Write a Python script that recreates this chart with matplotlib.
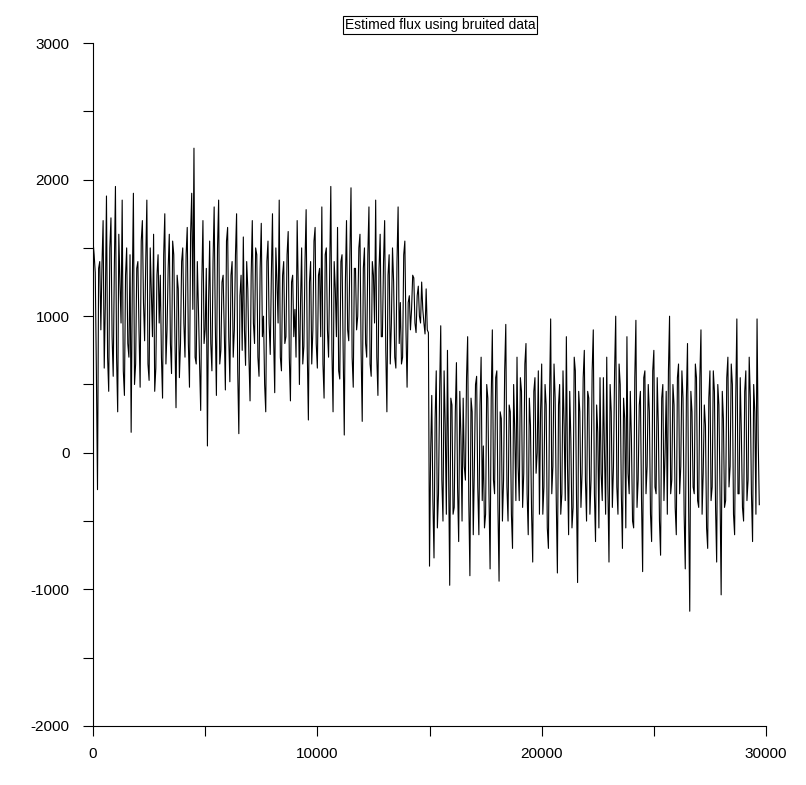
import numpy as np
import matplotlib.pyplot as plt
from matplotlib.ticker import MultipleLocator, FuncFormatter

plt.rcParams['font.family'] = ['Liberation Sans', 'DejaVu Sans']

# estimated flux on the even samples (every 100 time units)
flux_even = [
    1550, 1320, -270, 1400, 1380, 620, 1880, 450, 1720, 560,
    1950, 300, 1250, 1850, 420, 1500, 700, 150, 1900, 650,
    1400, 480, 1700, 820, 1850, 530, 1180, 1600, 620, 1450,
    1300, 400, 1750, 900, 1600, 580, 1450, 330, 1200, 800,
    1500, 700, 1650, 480, 1900, 2230, 650, 1050, 310, 1700,
    900, 50, 1550, 600, 1800, 420, 1850, 750, 1300, 460,
    1650, 520, 1400, 900, 1750, 140, 1300, 1580, 640, 1200,
    380, 1700, 800, 1450, 560, 1680, 1000, 300, 1550, 720,
    1750, 440, 1250, 1850, 600, 1400, 850, 1620, 380, 1300,
    1050, 1700, 500, 1500, 780, 1780, 240, 1400, 900, 1650,
    620, 1350, 1800, 400, 1500, 700, 1950, 300, 1200, 1650,
    540, 1450, 130, 1700, 820, 1940, 480, 1350, 1000, 1600,
    230, 1500, 700, 1800, 560, 1300, 1850, 420, 1600, 850,
    1700, 300, 1450, 950, 1250, 620, 1800, 1100, 700, 1550,
    480, 1150, 1050, 1280, 880, 1220, 950, 1050, 870, 900,
    -830, 420, -770, 600, -300, 930, -500, 200, 750, -970,
    350, -400, 660, -650, 120, 400, -200, 850, -900, 300,
    -100, 560, -600, 700, 50, -450, 400, -850, 900, -300,
    600, -940, 250, -200, 940, -500, 300, -700, 150, 700,
    -350, 450, -150, 800, -600, 200, -800, 550, 0, -450,
    650, -250, 350, -700, 980, -100, 400, -880, 500, -300,
    200, 850, -600, 100, -400, 600, -950, 300, -150, 750,
    -500, 400, -200, 900, -650, 150, 550, -350, 0, 700,
    -800, 300, -100, 1000, -450, 500, -700, 250, 850, -300,
    100, -550, 970, -200, 450, -870, 600, -100, 300, -650,
    750, -300, 200, -750, 500, 0, -450, 1000, -200, 350,
    -600, 650, -100, 400, -850, 800, -1160, 300, -300, 550,
    -400, 900, -150, 200, -700, 600, -250, 450, -800, 350,
    -1040, 250, -350, 700, -100, 500, -600, 980, -300, 150,
    -500, 600, -200, 400, -650, 300, 980, -380,
]
# odd samples, halfway between the even ones
flux_odd = [
    1450, 600, 1350, 900, 1700, 1100, 700, 1500, 850, 1350,
    700, 1600, 950, 600, 1300, 800, 1450, 1200, 500, 1350,
    900, 1550, 1100, 1400, 650, 1500, 850, 450, 1300, 950,
    700, 1450, 650, 1350, 800, 1550, 850, 1300, 550, 1400,
    950, 1450, 800, 1600, 1050, 700, 1400, 650, 1250, 800,
    1350, 1100, 800, 1400, 950, 1500, 650, 1250, 900, 1550,
    850, 1300, 700, 1450, 600, 1150, 750, 900, 1400, 700,
    1300, 950, 1500, 700, 1350, 850, 500, 1400, 950, 1300,
    850, 1500, 950, 700, 1300, 800, 1450, 700, 1250, 850,
    700, 1200, 1100, 650, 1400, 750, 1250, 650, 1550, 800,
    1300, 850, 650, 1450, 900, 1300, 750, 1400, 850, 600,
    1400, 750, 1250, 900, 1450, 700, 1350, 900, 1500, 750,
    1350, 800, 1450, 650, 1400, 950, 700, 1350, 850, 1400,
    750, 1300, 650, 1500, 700, 1400, 800, 650, 1450, 900,
    1100, 900, 1300, 950, 1150, 1000, 1250, 950, 1200, 880,
    0, -350, 250, -550, 450, -200, 600, -450, -100, 400,
    -450, 300, -250, 450, -500, -100, 550, -350, 400, -600,
    500, -250, 350, -350, -550, 500, -300, 400, -200, 550,
    -400, 300, -500, 600, -250, 350, -450, 500, -350, -100,
    550, -400, 650, -300, 400, -450, 450, -150, 600, 300,
    -450, 500, -550, 400, -300, 650, -350, 350, -450, 600,
    -350, -100, 450, -550, 700, -300, 450, -400, 550, -200,
    450, -450, 600, -300, 350, -550, -150, 550, -450, -250,
    500, -400, 600, -250, 650, -300, 400, -550, -150, 450,
    -500, 550, -400, 350, -350, 550, -300, 500, -450, 600,
    -250, 550, -500, 400, -350, 450, 600, -300, 500, -400,
    550, -300, 600, -450, 400, -400, 450, -250, 650, -350,
    550, -450, 350, -550, 400, -350, 600, -400, 500, -300,
    450, -400, 550, -250, 650, -450, 400, -300, 550, -400,
    450, -350, 700, -300, 500, -450, 100,
]
flux = np.empty(len(flux_even) + len(flux_odd))
flux[0::2] = flux_even
flux[1::2] = flux_odd
t = np.arange(len(flux)) * 50

fig = plt.figure(figsize=(8.06, 7.85), dpi=100)
ax = fig.add_axes([0.1154, 0.0752, 0.835, 0.87])
ax.plot(t, flux, color='black', linewidth=0.8)

ax.set_xlim(0, 30000)
ax.set_ylim(-2000, 3000)
ax.xaxis.set_major_locator(MultipleLocator(10000))
ax.xaxis.set_minor_locator(MultipleLocator(5000))
ax.yaxis.set_major_locator(MultipleLocator(1000))
ax.yaxis.set_minor_locator(MultipleLocator(500))
ax.yaxis.set_major_formatter(FuncFormatter(lambda v, pos: '%d' % v))
ax.tick_params(which='both', direction='out', length=7, width=0.8, labelsize=11)
ax.tick_params(axis='x', pad=8)
ax.tick_params(axis='y', pad=10)
for side in ['top', 'right']:
    ax.spines[side].set_visible(False)
for side in ['left', 'bottom']:
    ax.spines[side].set_linewidth(0.8)

fig.text(0.546, 0.968, 'Estimed flux using bruited data', ha='center', va='center',
         fontsize=10, bbox=dict(boxstyle='square,pad=0.15', facecolor='white',
                                edgecolor='black', linewidth=0.8))

fig.savefig('out.png', dpi=100)
